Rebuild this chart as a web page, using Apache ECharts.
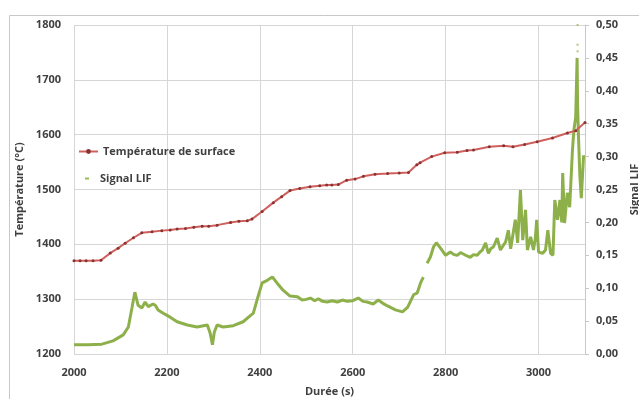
<!DOCTYPE html>
<html>
<head>
<meta charset="utf-8">
<script src="https://cdn.jsdelivr.net/npm/echarts@6/dist/echarts.min.js"></script>
<style>html,body{margin:0;padding:0;background:#fff;}#c{width:639px;height:399px;}</style>
</head>
<body>
<div id="c"></div>
<script>
var xTicks = [2000, 2200, 2400, 2600, 2800, 3000];
var tempTime = [2000,2013,2026,2041,2058,2078,2095,2110,2128,2146,2168,2189,2207,2222,2240,2258,2276,2290,2308,2337,2355,2373,2383,2405,2429,2447,2465,2486,2508,2529,2544,2555,2569,2587,2605,2623,2648,2675,2700,2720,2738,2745,2770,2798,2825,2846,2860,2894,2925,2945,2970,2997,3030,3062,3080,3100];
var tempValue = [1370,1370,1370,1370,1371,1384,1393,1402,1412,1421,1423,1425,1426,1428,1429,1431,1433,1433,1435,1440,1442,1443,1446,1460,1476,1487,1498,1502,1505,1507,1508,1508,1509,1517,1519,1524,1528,1529,1530,1531,1545,1549,1560,1567,1568,1571,1572,1578,1580,1578,1582,1587,1594,1603,1607,1622];
var lifTime = [2000,2030,2060,2084,2106,2117,2125,2131,2138,2146,2153,2160,2164,2170,2175,2181,2192,2207,2222,2244,2265,2287,2293,2298,2302,2308,2321,2343,2364,2379,2386,2394,2405,2416,2427,2437,2450,2465,2481,2491,2500,2509,2518,2526,2535,2545,2556,2567,2578,2588,2600,2612,2622,2631,2644,2655,2665,2675,2692,2707,2718,2731,2739,2746,2752,2756,2760,2767,2774,2780,2789,2800,2810,2818,2825,2832,2838,2846,2853,2860,2868,2874,2879,2886,2892,2897,2903,2911,2918,2924,2929,2935,2940,2944,2950,2955,2961,2966,2972,2976,2983,2989,2993,2996,3000,3009,3015,3020,3026,3031,3035,3041,3046,3050,3052,3056,3062,3067,3073,3076,3080,3082,3083,3084,3086,3089,3092,3095,3097];
var lifValue = [0.014,0.014,0.015,0.020,0.029,0.041,0.071,0.094,0.074,0.070,0.079,0.072,0.070,0.076,0.074,0.067,0.062,0.056,0.049,0.044,0.041,0.044,0.032,0.014,0.033,0.044,0.041,0.043,0.049,0.058,0.062,0.082,0.108,0.112,0.117,0.108,0.097,0.088,0.087,0.082,0.083,0.085,0.081,0.084,0.080,0.079,0.081,0.079,0.082,0.080,0.081,0.085,0.080,0.079,0.076,0.082,0.077,0.073,0.067,0.064,0.071,0.090,0.093,0.108,0.117,null,0.138,0.147,0.163,0.169,0.161,0.150,0.155,0.151,0.150,0.154,0.152,0.149,0.147,0.151,0.150,0.155,0.158,0.169,0.153,0.160,0.163,0.176,0.158,0.165,0.170,0.188,0.160,0.163,0.204,0.169,0.249,0.173,0.219,0.158,0.178,0.158,0.175,0.204,0.155,0.153,0.158,0.188,0.153,0.150,0.234,0.204,0.234,0.200,0.275,0.199,0.245,0.223,0.310,0.340,0.360,0.420,0.450,0.380,0.330,0.270,0.237,0.240,0.302];
var spikeTime = [3084, 3084, 3084];
var spikeValue = [0.46, 0.47, 0.50];

function pairs(xs, ys) { return xs.map(function (x, i) { return [x, ys[i]]; }); }

var font = 'Open Sans';
var txt = '#404040';
var chart = echarts.init(document.getElementById('c'), null, {renderer: 'canvas'});
chart.setOption({
  animation: false,
  backgroundColor: '#fff',
  graphic: [{type: 'rect', left: 7, top: 13, shape: {width: 700, height: 500}, style: {fill: 'none', stroke: '#c8c8c8', lineWidth: 1}, silent: true}],
  grid: {left: 74, right: 54, top: 25, bottom: 45, containLabel: false, outerBoundsMode: 'none'},
  legend: [
    {data: ['Température de surface'], left: 78, top: 146, padding: 0, orient: 'vertical', itemWidth: 19, itemHeight: 6, selectedMode: false,
     textStyle: {fontFamily: font, fontSize: 11, fontWeight: 'bold', color: txt}},
    {data: [{name: 'Signal LIF', icon: 'rect'}], left: 85, top: 173, padding: 0, itemWidth: 4, itemHeight: 2, selectedMode: false,
     textStyle: {fontFamily: font, fontSize: 11, fontWeight: 'bold', color: txt, padding: [0, 0, 0, 6]}}
  ],
  xAxis: {
    type: 'value', min: 2000, max: 3100, interval: 200,
    name: 'Durée (s)', nameLocation: 'middle', nameGap: 32,
    nameTextStyle: {fontFamily: font, fontSize: 11, fontWeight: 'bold', color: txt},
    axisLine: {show: false}, axisTick: {show: false},
    axisLabel: {fontFamily: font, fontSize: 11, fontWeight: 'bold', color: txt, margin: 13,
      formatter: function (v) { return xTicks.indexOf(v) >= 0 ? String(v) : ''; }},
    splitLine: {show: true, lineStyle: {color: '#d6d6d6', width: 1}}
  },
  yAxis: [
    {type: 'value', min: 1200, max: 1800, interval: 100, position: 'left',
     name: 'Température (°C)', nameLocation: 'middle', nameGap: 48, nameRotate: 90,
     nameTextStyle: {fontFamily: font, fontSize: 11, fontWeight: 'bold', color: txt},
     axisLine: {show: false}, axisTick: {show: false},
     axisLabel: {fontFamily: font, fontSize: 11, fontWeight: 'bold', color: txt, margin: 13,
       formatter: function (v) { return String(v); }},
     splitLine: {show: true, lineStyle: {color: '#d6d6d6', width: 1}}},
    {type: 'value', min: 0, max: 0.5, interval: 0.05, position: 'right',
     name: 'Signal LIF', nameLocation: 'middle', nameGap: 42, nameRotate: 90,
     nameTextStyle: {fontFamily: font, fontSize: 11, fontWeight: 'bold', color: txt},
     axisLine: {show: true, lineStyle: {color: '#c8c8c8'}},
     axisTick: {show: true, length: 4, lineStyle: {color: '#c8c8c8'}},
     axisLabel: {fontFamily: font, fontSize: 11, fontWeight: 'bold', color: txt, margin: 11,
       formatter: function (v) { return v.toFixed(2).replace('.', ','); }},
     splitLine: {show: false}}
  ],
  series: [
    {name: 'Température de surface', type: 'line', yAxisIndex: 0, data: pairs(tempTime, tempValue),
     symbol: 'circle', symbolSize: 3, showSymbol: true, color: '#c0504d',
     lineStyle: {color: '#d0605d', width: 2}, itemStyle: {color: '#8a3232'}, z: 3},
    {name: 'Signal LIF', type: 'line', yAxisIndex: 1, data: pairs(lifTime, lifValue),
     showSymbol: false, connectNulls: false, color: '#9bbb59',
     lineStyle: {color: '#8db04a', width: 3}, z: 2},
    {name: 'Signal LIF', type: 'scatter', yAxisIndex: 1, data: pairs(spikeTime, spikeValue),
     symbol: 'rect', symbolSize: 2, itemStyle: {color: '#9bbb59'}, z: 2}
  ]
});
</script>
</body>
</html>
